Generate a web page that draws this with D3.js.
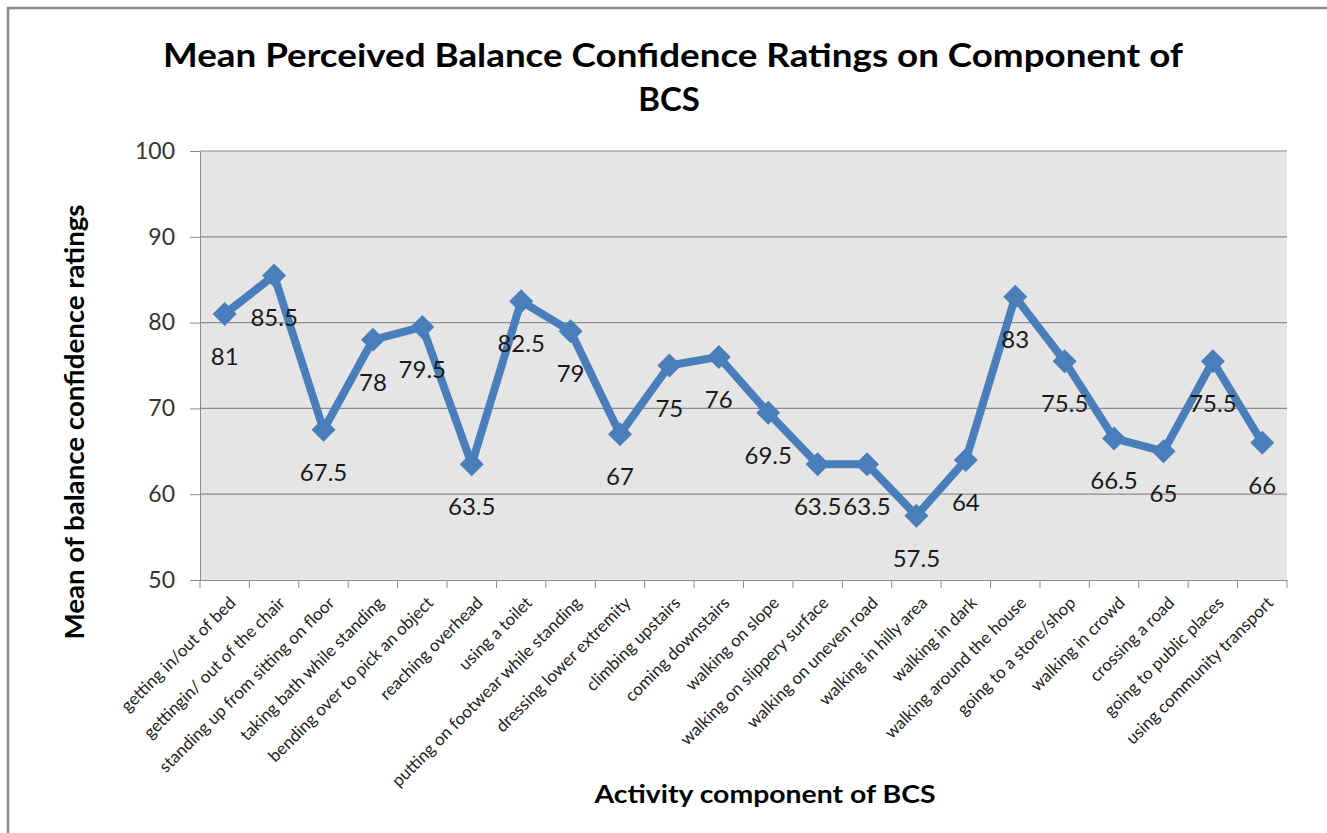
<!DOCTYPE html>
<html>
<head>
<meta charset="utf-8">
<script src="https://cdn.jsdelivr.net/npm/d3@7"></script>
<style>
  body { margin: 0; background: #fff; }
  text { font-family: Lato, "Open Sans", sans-serif; }
</style>
</head>
<body>
<script>
// activity components of BCS
var activities = [
  "getting in/out of bed", "gettingin/ out of the chair", "standing up from sitting on floor",
  "taking bath while standing", "bending over to pick an object", "reaching overhead",
  "using a toilet", "putting on footwear while standing", "dressing lower extremity",
  "climbing upstairs", "coming downstairs", "walking on slope", "walking on slippery surface",
  "walking on uneven road", "walking in hilly area", "walking in dark",
  "walking around the house", "going to a store/shop", "walking in crowd",
  "crossing a road", "going to public places", "using community transport"
];
var meanRatings = [81, 85.5, 67.5, 78, 79.5, 63.5, 82.5, 79, 67, 75, 76, 69.5, 63.5, 63.5, 57.5, 64, 83, 75.5, 66.5, 65, 75.5, 66];
var yTicks = [50, 60, 70, 80, 90, 100];

var width = 1327, height = 833;
var plotLeft = 200, plotRight = 1287, plotTop = 151, plotBottom = 580;

var svg = d3.select("body").append("svg")
    .attr("width", width)
    .attr("height", height);

// chart frame
svg.append("rect")
    .attr("x", 8).attr("y", 8)
    .attr("width", 1340).attr("height", 850)
    .attr("fill", "none").attr("stroke", "#8a8a8a").attr("stroke-width", 2.5);

var x = d3.scaleBand().domain(activities).range([plotLeft, plotRight]);
var y = d3.scaleLinear().domain([50, 100]).range([plotBottom, plotTop]);

// plot area
svg.append("rect")
    .attr("x", plotLeft).attr("y", plotTop)
    .attr("width", plotRight - plotLeft).attr("height", plotBottom - plotTop)
    .attr("fill", "#e5e5e5");

// gridlines
svg.append("g").selectAll("line")
    .data(yTicks.slice(1)).enter()
    .append("line")
    .attr("x1", plotLeft).attr("x2", plotRight)
    .attr("y1", function(d) { return y(d); })
    .attr("y2", function(d) { return y(d); })
    .attr("stroke", "#8c8c8c").attr("stroke-width", 1.2);

// y axis
var yAxis = svg.append("g")
    .attr("transform", "translate(" + plotLeft + ",0)")
    .call(d3.axisLeft(y).tickValues(yTicks).tickSize(10).tickPadding(15));
yAxis.select(".domain").attr("stroke", "#8c8c8c");
yAxis.selectAll(".tick line").attr("stroke", "#8c8c8c");
yAxis.selectAll(".tick text")
    .attr("font-size", 23).attr("fill", "#333")
    .style("font-family", "Lato, sans-serif");

// x axis
var xAxis = svg.append("g")
    .attr("transform", "translate(0," + plotBottom + ")")
    .call(d3.axisBottom(x).tickSize(0).tickFormat(""));
xAxis.select(".domain").attr("stroke", "#8c8c8c");
xAxis.selectAll(".tick").remove();

// tick marks between categories
var edges = activities.map(function(d) { return x(d); }).concat([plotRight]);
svg.append("g").selectAll("line")
    .data(edges).enter()
    .append("line")
    .attr("x1", function(d) { return d; })
    .attr("x2", function(d) { return d; })
    .attr("y1", plotBottom).attr("y2", plotBottom + 8)
    .attr("stroke", "#8c8c8c");

// rotated category labels
svg.append("g").selectAll("text")
    .data(activities).enter()
    .append("text")
    .attr("transform", function(d) {
        return "translate(" + (x(d) + x.bandwidth() / 2 + 12) + "," + 604 + ") rotate(-45)";
    })
    .attr("text-anchor", "end")
    .attr("font-size", 17)
    .attr("fill", "#222")
    .text(function(d) { return d; });

// series line
var cx = function(d, i) { return x(activities[i]) + x.bandwidth() / 2; };
var line = d3.line()
    .x(function(d, i) { return cx(d, i); })
    .y(function(d) { return y(d); });

svg.append("path")
    .datum(meanRatings)
    .attr("d", line)
    .attr("fill", "none")
    .attr("stroke", "#4a7ebb")
    .attr("stroke-width", 8)
    .attr("stroke-linejoin", "round");

// diamond markers
svg.append("g").selectAll("path")
    .data(meanRatings).enter()
    .append("path")
    .attr("d", "M0,-12L12,0L0,12L-12,0Z")
    .attr("transform", function(d, i) { return "translate(" + cx(d, i) + "," + y(d) + ")"; })
    .attr("fill", "#4a7ebb");

// data labels
svg.append("g").selectAll("text")
    .data(meanRatings).enter()
    .append("text")
    .attr("x", function(d, i) { return cx(d, i); })
    .attr("y", function(d) { return y(d) + 51; })
    .attr("text-anchor", "middle")
    .attr("font-size", 24)
    .attr("fill", "#1a1a1a")
    .text(function(d) { return d; });

// titles
svg.append("text")
    .attr("x", 673).attr("y", 67)
    .attr("text-anchor", "middle")
    .attr("font-size", 33).attr("font-weight", "bold")
    .attr("textLength", 1020).attr("lengthAdjust", "spacingAndGlyphs")
    .text("Mean Perceived Balance Confidence Ratings on Component of");
svg.append("text")
    .attr("x", 669).attr("y", 111)
    .attr("text-anchor", "middle")
    .attr("font-size", 33).attr("font-weight", "bold")
    .text("BCS");

svg.append("text")
    .attr("transform", "translate(84,422) rotate(-90)")
    .attr("text-anchor", "middle")
    .attr("font-size", 27).attr("font-weight", "bold")
    .attr("textLength", 435).attr("lengthAdjust", "spacingAndGlyphs")
    .text("Mean of balance confidence ratings");

svg.append("text")
    .attr("x", 765).attr("y", 803)
    .attr("text-anchor", "middle")
    .attr("font-size", 25).attr("font-weight", "bold")
    .attr("textLength", 341).attr("lengthAdjust", "spacingAndGlyphs")
    .text("Activity component of BCS");
</script>
</body>
</html>
